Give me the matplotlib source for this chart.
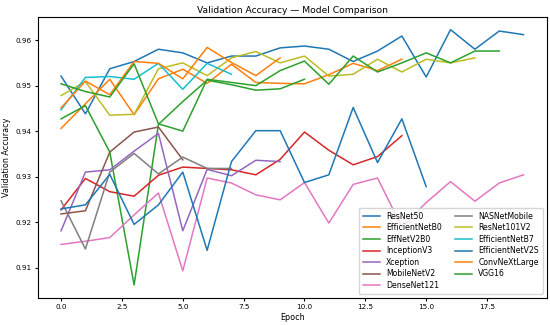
import matplotlib
matplotlib.use("Agg")
from matplotlib import pyplot as plt

# validation accuracy per epoch
resnet50 = [0.9521, 0.9438, 0.9537, 0.9553, 0.9580, 0.9572, 0.9550, 0.9565, 0.9565, 0.9583,
            0.9587, 0.9580, 0.9553, 0.9576, 0.9609, 0.9519, 0.9623, 0.9580, 0.9620, 0.9612]
efficientnetb0 = [0.9406, 0.9460, 0.9514, 0.9436, 0.9515, 0.9536, 0.9505, 0.9547, 0.9507, 0.9505,
                  0.9504, 0.9524, 0.9549, 0.9533, 0.9558]
effnetv2b0 = [0.9427, 0.9456, 0.9354, 0.9062, 0.9415, 0.9465, 0.9512, 0.9502, 0.9490, 0.9493,
              0.9514]
inceptionv3 = [0.9227, 0.9296, 0.9267, 0.9257, 0.9303, 0.9321, 0.9318, 0.9315, 0.9304, 0.9338,
               0.9398, 0.9358, 0.9326, 0.9344, 0.9390]
xception = [0.9181, 0.9310, 0.9315, 0.9356, 0.9395, 0.9181, 0.9316, 0.9302, 0.9336, 0.9333]
mobilenetv2 = [0.9218, 0.9225, 0.9354, 0.9398, 0.9409, 0.9337]
densenet121 = [0.9151, 0.9158, 0.9166, 0.9216, 0.9264, 0.9093, 0.9297, 0.9286, 0.9260, 0.9249,
               0.9287, 0.9198, 0.9283, 0.9297, 0.9189, 0.9243, 0.9289, 0.9246, 0.9286, 0.9304]
nasnetmobile = [0.9247, 0.9141, 0.9310, 0.9351, 0.9306, 0.9343, 0.9318, 0.9318]
resnet101v2 = [0.9478, 0.9509, 0.9435, 0.9437, 0.9537, 0.9550, 0.9522, 0.9561, 0.9575, 0.9550,
               0.9565, 0.9521, 0.9525, 0.9558, 0.9530, 0.9558, 0.9550, 0.9561]
efficientnetb7 = [0.9447, 0.9518, 0.9520, 0.9514, 0.9549, 0.9492, 0.9549, 0.9525]
efficientnetv2s = [0.9229, 0.9238, 0.9305, 0.9195, 0.9238, 0.9310, 0.9138, 0.9333, 0.9401, 0.9401,
                   0.9287, 0.9304, 0.9452, 0.9331, 0.9427, 0.9278]
convnextlarge = [0.9451, 0.9510, 0.9480, 0.9553, 0.9549, 0.9515, 0.9584, 0.9551, 0.9522, 0.9561]
vgg16 = [0.9504, 0.9487, 0.9475, 0.9548, 0.9416, 0.9400, 0.9514, 0.9507, 0.9500, 0.9533,
         0.9554, 0.9503, 0.9565, 0.9530, 0.9550, 0.9572, 0.9550, 0.9576, 0.9576]

models = ["ResNet50", "EfficientNetB0", "EffNetV2B0", "InceptionV3", "Xception",
          "MobileNetV2", "DenseNet121", "NASNetMobile", "ResNet101V2", "EfficientNetB7",
          "EfficientNetV2S", "ConvNeXtLarge", "VGG16"]
histories = [resnet50, efficientnetb0, effnetv2b0, inceptionv3, xception,
             mobilenetv2, densenet121, nasnetmobile, resnet101v2, efficientnetb7,
             efficientnetv2s, convnextlarge, vgg16]

plt.rcParams["font.size"] = 6

fig = plt.figure(figsize=(5.5, 3.25), dpi=100)
ax = fig.add_axes([0.069, 0.084, 0.925, 0.864])

for name, acc in zip(models, histories):
    ax.plot(range(len(acc)), acc, label=name, linewidth=1.1)

ax.set_title("Validation Accuracy — Model Comparison", fontsize=6.6, pad=3)
ax.set_xlabel("Epoch", fontsize=5.8, labelpad=2)
ax.set_ylabel("Validation Accuracy", fontsize=5.8, labelpad=3)
ax.tick_params(labelsize=5.2, length=2.5, pad=2)
ax.legend(loc="lower right", ncol=2, fontsize=5.6, labelspacing=0.33,
          handlelength=2.2, handletextpad=0.8, columnspacing=1.7, borderpad=0.5)

fig.savefig("out.png", dpi=100)
